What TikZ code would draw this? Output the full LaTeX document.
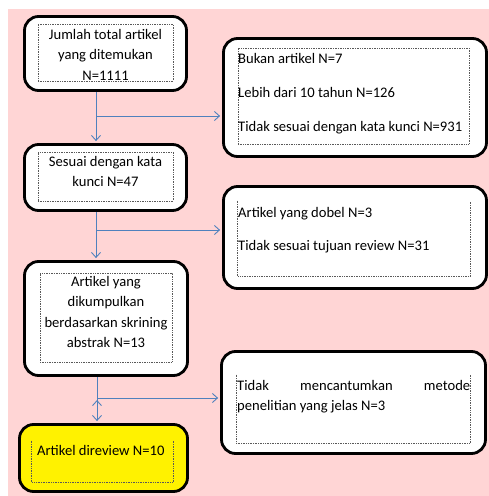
\documentclass[tikz,border=0pt]{standalone}
\usepackage{fontspec}
\setmainfont{Carlito}
\usetikzlibrary{arrows.meta,positioning}
\definecolor{bgpink}{RGB}{255,213,213}
\definecolor{linkblue}{RGB}{79,129,189}

\begin{document}
\begin{tikzpicture}[x=1pt,y=-1pt]
        \tikzset{Frame/.style={draw=black, line width=2.8pt, rounded corners=14pt, fill=white}}
        \tikzset{Inner/.style={gray!70!black, densely dotted, line width=0.7pt, inner sep=0pt}}
        \tikzset{Label/.style={inner sep=0pt, anchor=north, text=black, font=\fontsize{14.6}{20.5}\selectfont}}
        \tikzset{Link/.style={draw=linkblue, line width=0.9pt, shorten >=2pt, -{Straight Barb[length=5pt,width=9pt]}}}

        \useasboundingbox (0,0) rectangle (489,496);
        \fill[bgpink] (8,9) rectangle (489,496);

        % left column
        \node[Frame, minimum width=162pt, minimum height=74pt](B01) at (105.5,53.5) {};
        \node[Inner, draw, minimum width=135pt, minimum height=57pt](I01) at (105.5,52.5) {};
        \node[Label, align=center](T01) at (105.5,29) {Jumlah total artikel\\yang ditemukan\\N=1111};

        \node[Frame, minimum width=162pt, minimum height=66pt](B02) at (105.5,177.5) {};
        \node[Inner, draw, minimum width=135pt, minimum height=49pt](I02) at (105.5,176.5) {};
        \node[Label, align=center](T02) at (105.5,156) {Sesuai dengan kata\\kunci N=47};

        \node[Frame, minimum width=163pt, minimum height=114pt](B03) at (106,318.5) {};
        \node[Inner, draw, minimum width=132pt, minimum height=89pt](I03) at (106,317.5) {};
        \node[Label, align=center](T03) at (106,276) {Artikel yang\\dikumpulkan\\berdasarkan skrining\\abstrak N=13};

        \node[Frame, fill=yellow, minimum width=168pt, minimum height=67pt](B04) at (103.5,458) {};
        \node[Inner, minimum width=141pt, minimum height=41pt](I04) at (102.5,461.5) {};
        \node[Label, anchor=north west](T04) at (37,445) {Artikel direview N=10};

        % right column
        \node[Frame, minimum width=263pt, minimum height=118pt](RA) at (355,97.5) {};
        \node[Inner, draw, minimum width=231pt, minimum height=96pt](IA) at (353.5,96) {};
        \node[Label, anchor=north west, align=left](TA) at (238,53) {Bukan artikel N=7\\[13.5pt]Lebih dari 10 tahun N=126\\[13.5pt]Tidak sesuai dengan kata kunci N=931};

        \node[Frame, minimum width=263pt, minimum height=102pt](RB) at (355,237.5) {};
        \node[Inner, minimum width=232pt, minimum height=75pt](IB) at (354,238.5) {};
        \node[Label, anchor=north west, align=left](TB) at (238,207) {Artikel yang dobel N=3\\[12.5pt]Tidak sesuai tujuan review N=31};

        \node[Frame, minimum width=264pt, minimum height=102pt](RC) at (353.5,402.5) {};
        \node[Inner, minimum width=233pt, minimum height=68pt](IC) at (353.5,409) {};
        \node[Label, anchor=north west, text width=233pt, align=justify](TC) at (237,380) {Tidak\hfill mencantumkan\hfill metode\\penelitian yang jelas N=3};

        % open dotted frames
        \draw[Inner] (IB.north west) -- (IB.south west) -- (IB.south east) -- (IB.north east);
        \draw[Inner] (IC.north west) -- (IC.south west) -- (IC.south east) -- (IC.north east);
        \draw[Inner] (I04.north west) -- (I04.south west) -- (I04.south east) -- (I04.north east);

        % junctions
        \coordinate (J01) at (96,116);
        \coordinate (J02) at (96,230);
        \coordinate (J03) at (97,398);

        \draw[Link] (B01.south -| J01) -- (B02.north -| J01);
        \draw[Link] (B02.south -| J02) -- (B03.north -| J02);
        \draw[Link] (B03.south -| J03) -- (B04.north -| J03);

        \draw[Link]
            (J01) edge (J01 -| RA.west)
            (J02) edge (J02 -| RB.west)
            (J03) edge (J03 -| RC.west)
        ;
\end{tikzpicture}
\end{document}
